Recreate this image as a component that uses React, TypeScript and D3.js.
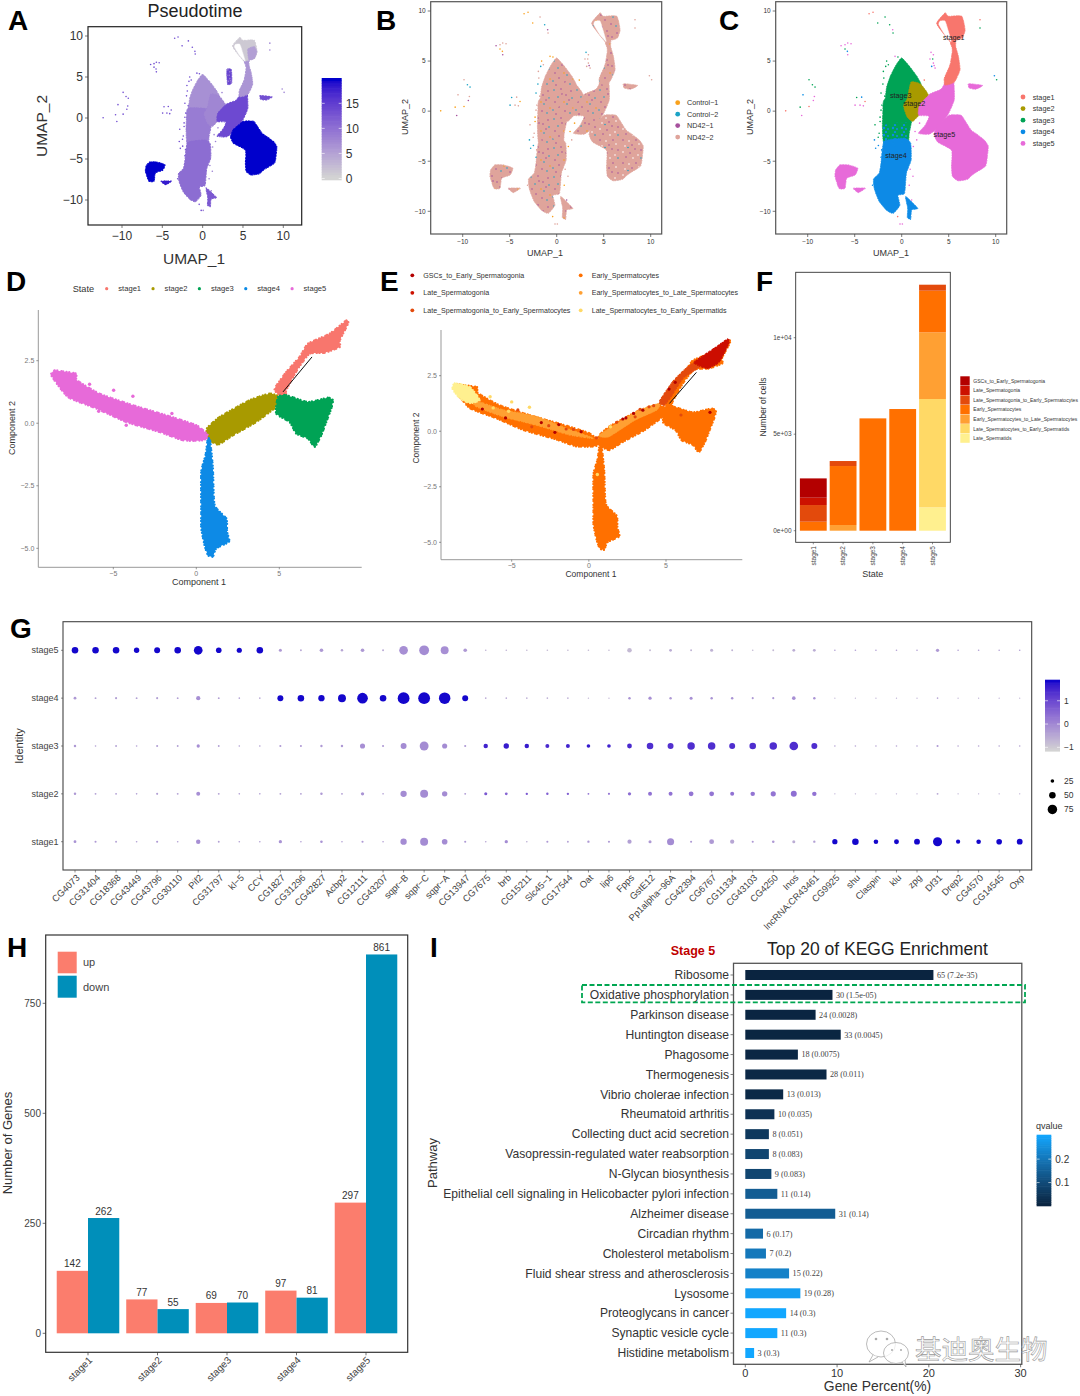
import * as d3 from "d3";
import React from "react";

const FONT = "'Liberation Sans', Arial, sans-serif";
const stages = ["stage1", "stage2", "stage3", "stage4", "stage5"];
const stageColors = ["#f8766d", "#a89a00", "#00a355", "#0a8ae6", "#e76bd9"];

type Pt = number[];

const umapTop: Pt[] = [[3.72, 8.8], [4.61, 9.8], [4.96, 9.47], [6.38, 9.47], [6.74, 8.13], [6.45, 7.3], [5.74, 7.07], [5.14, 6.97], [4.26, 7.97]];
const umapTopTip: Pt[] = [[5.6, 8.4], [6.4, 8.7], [6.72, 8.1], [6.45, 7.3], [5.74, 7.07]];
const umapStem: Pt[] = [[5.14, 6.97], [5.74, 7.07], [5.74, 6.47], [6.03, 5.47], [6.2, 4.13], [5.6, 2.9], [4.61, 2.6], [4.54, 3.3], [5.14, 4.63], [5.39, 6.13]];
const umapGap: Pt[] = [[4.08, 8.97], [3.97, 8.63], [4.61, 7.63], [5.25, 6.97], [4.96, 7.97], [4.61, 8.97]];
const umapUpper: Pt[] = [[0.0, 5.3], [0.8, 4.5], [1.6, 3.5], [2.1, 2.6], [2.1, 1.5], [1.6, 0.8], [0.5, 0.2], [-1.8, 0.2], [-1.75, 1.2], [-1.6, 2.4], [-1.2, 3.5], [-0.6, 4.6]];
const umapLower: Pt[] = [[-1.8, 1.2], [0.7, 1.1], [1.1, 0.2], [1.1, -0.8], [0.8, -2.2], [0.6, -3.1], [-1.8, -3.4], [-2.05, -1.6], [-2.0, 0]];
const umapOlive: Pt[] = [[1.0, 2.9], [2.0, 2.7], [2.8, 1.7], [2.8, 0.8], [2.2, 0], [1.2, -1], [0.6, -0.6], [0.2, 0.5], [0.6, 1.3]];
const umapCentre: Pt[] = [[1.9, 0.6], [3.0, 1.7], [4.2, 2.2], [4.9, 3.3], [5.5, 3.2], [5.6, 1.2], [5.0, -0.2], [4.4, -1], [3.7, -1.8], [2.9, -2.3], [1.8, -2.2], [2.5, -1.4], [2.9, -0.5], [1.8, -0.4]];
const umapLobe: Pt[] = [[3.45, -2.3], [3.8, -1.4], [4.3, -1.0], [5.05, -0.4], [6.3, -0.4], [6.8, -1.05], [7.4, -1.9], [8, -2.3], [8.8, -2.9], [9.2, -3.5], [9.1, -4.6], [8.9, -5.5], [7.6, -6.3], [7.0, -6.8], [6, -6.95], [5.4, -6.5], [5.3, -5.5], [5.3, -3.9], [3.85, -3.1]];
const umapBlue: Pt[] = [[-1.85, -3.0], [0.3, -2.7], [0.95, -3.2], [1.0, -4.87], [0.5, -6.2], [0.3, -8.2], [-0.4, -8.4], [-0.2, -9.4], [-0.9, -10.2], [-1.6, -9.9], [-2.4, -9.0], [-2.9, -7.8], [-3, -6.8], [-2.4, -6.2], [-2.2, -5.2]];
const umapTail: Pt[] = [[0.43, -8.53], [1.7, -9.7], [1.06, -9.87], [0.95, -10.8], [0.6, -10.6], [0.64, -9.7]];
const umapLeft: Pt[] = [[-7.02, -5.87], [-6.56, -5.37], [-5.67, -5.37], [-4.68, -5.7], [-4.96, -6.37], [-5.85, -6.7], [-6.03, -7.7], [-6.67, -7.7], [-7.09, -6.53]];
const umapLeftSmall: Pt[] = [[-5.14, -7.7], [-3.9, -7.7], [-4.61, -8.13]];
const umapStrip: Pt[] = [[3.0, 5.9], [3.55, 5.9], [3.6, 4.3], [3.1, 4.1]];
const umapRightBit: Pt[] = [[7.13, 2.73], [8.6, 2.57], [7.9, 2.2], [7.2, 2.3]];
const umapBlend: Pt[] = [[-1.9, -1.4], [0.8, -1.2], [0.6, -3.2], [-1.8, -3.6]];

// outline, stage index, pseudotime
const umapRegions: [Pt[], number, number][] = [
  [umapUpper, 2, 6.5],
  [umapLower, 2, 8.5],
  [umapBlue, 3, 10],
  [umapTail, 3, 12],
  [umapOlive, 1, 7.5],
  [umapCentre, 4, 13.5],
  [umapLobe, 4, 19.5],
  [umapLeft, 4, 19.5],
  [umapLeftSmall, 4, 18],
  [umapRightBit, 4, 13],
  [umapStem, 0, 6],
  [umapTop, 0, 1],
];

// stray cells: UMAP_1, UMAP_2, stage, sample
const umapStrays: Pt[] = [
  [-3.47, 9.73, 0, 0], [-3.05, 9.87, 0, 0], [-1.77, 9.4, 2, 3], [-2.55, 8.8, 2, 0], [-1.28, 8.63, 2, 1], [-0.96, 8.13, 4, 2], [-0.92, 7.8, 2, 3],
  [-6.45, 6.53, 4, 2], [-6.03, 6.63, 4, 3], [-5.74, 6.8, 4, 3], [-5.39, 6.73, 4, 3], [-6.03, 6.2, 2, 0], [-5.78, 5.97, 3, 0], [-5.74, 5.63, 4, 2],
  [-9.86, 3.13, 2, 3], [-9.5, 2.63, 2, 1], [-9.22, 2.4, 2, 1], [-9.29, 1.47, 4, 3], [-9.4, 1.07, 4, 2], [-10.5, 1.63, 3, 3], [-10.8, 0.4, 2, 0], [-9.86, 0.47, 0, 0], [-10.64, -0.43, 4, 2], [-12.34, 0.03, 0, 0],
  [-4.79, 1.37, 2, 1], [-4.26, 1.4, 3, 3], [-3.9, 0.97, 0, 0], [-4.96, 0.6, 4, 1], [-4.43, 0.6, 4, 3], [-4.08, 0.53, 4, 3],
  [8.33, 9.13, 0, 3], [8.33, 8.3, 2, 3], [9.86, 3.53, 3, 3], [10.1, 3.13, 2, 3],
  [-2.84, -1.37, 2, 3], [-2.3, -1.03, 2, 0], [-2.9, -2.87, 3, 1], [-2.48, -3.43, 3, 1], [-2.13, -3.87, 3, 3], [-2.77, -3.7, 3, 1],
  [-0.18, -11.27, 4, 3], [-0.43, -10.53, 0, 0], [0.07, -11.27, 4, 3], [1.06, -8.87, 4, 2], [1.42, -2.03, 4, 0], [1.6, -2.87, 4, 3], [1.24, -3.53, 4, 0],
  [-1.42, 4.63, 2, 3], [-1.7, 4.47, 2, 1], [-1.95, 3.97, 2, 3], [-0.71, 5.47, 4, 0], [-2.2, 1.8, 2, 1], [-2.1, 0.6, 2, 3], [-2.4, -2.2, 2, 3], [1.9, -1.2, 4, 0], [2.4, 3.1, 0, 0],
  [3.12, 5.87, 4, 1], [3.37, 5.63, 4, 3], [3.37, 4.8, 4, 3], [3.19, 4.47, 3, 3], [3.55, 4.3, 4, 3], [3.01, 5.2, 4, 3], [3.3, 5.2, 2, 3], [3.45, 4.55, 4, 2],
  [-1.9, 3.3, 2, 3], [-2.0, 2.7, 2, 1], [-1.8, 1.5, 2, 3], [-2.2, 0.1, 2, 3], [-2.3, -0.6, 2, 0], [-2.5, -2.6, 2, 3], [-2.2, -4.6, 3, 1], [-3.1, -7.4, 3, 3], [-1.6, 5.0, 2, 0], [-0.4, 5.4, 2, 0], [1.2, -6.5, 4, 3], [0.8, -7.4, 4, 0], [0.9, -5.8, 4, 3],
];

const umapTicks = [-10, -5, 0, 5, 10];
const samples = ["Control\u22121", "Control\u22122", "ND42\u22121", "ND42\u22122"];
const sampleColors = ["#f9a11b", "#1ba3c6", "#a6519d", "#dfa49b"];
const stageLabelsUmap: [string, number, number][] = [
  ["stage1", 5.53, 7.37], ["stage3", -0.1, 1.57], ["stage2", 1.35, 0.73], ["stage5", 4.54, -2.37], ["stage4", -0.6, -4.47],
];
const pseudotimeTicks = [0, 5, 10, 15];

// monocle trajectory outlines (Component 1, Component 2)
const trajStage5: Pt[] = [[-8.73, 1.91], [-8.53, 2.11], [-8.03, 2.07], [-7.23, 1.98], [-7.19, 1.72], [-5.82, 1.18], [-3.82, 0.72], [-1.81, 0.32], [0, -0.08], [0.7, -0.48], [0.4, -0.68], [-0.8, -0.68], [-2.21, -0.35], [-4.22, 0.05], [-6.02, 0.59], [-7.73, 1.05]];
const trajStage2: Pt[] = [[0.64, -0.21], [1.41, 0.25], [3.21, 0.92], [4.42, 1.18], [4.98, 1.05], [4.92, 0.72], [3.61, 0.05], [2.21, -0.48], [1.31, -0.85], [0.7, -0.61]];
const trajStage1: Pt[] = [[4.72, 1.38], [5.42, 2.05], [6.22, 2.65], [6.73, 3.18], [8.03, 3.58], [9.04, 4.11], [9.14, 3.98], [8.64, 3.31], [8.64, 3.05], [7.73, 2.82], [6.83, 2.78], [6.12, 2.18], [5.42, 1.32], [5.42, 1.05], [5.02, 1.12]];
const trajStage3: Pt[] = [[4.92, 1.05], [5.42, 1.12], [6.73, 0.85], [7.93, 1.02], [8.23, 0.92], [8.13, 0.59], [7.83, 0.05], [7.53, -0.48], [7.13, -0.94], [6.73, -0.61], [6.02, -0.41], [5.62, 0.05], [4.82, 0.39]];
const trajStage4: Pt[] = [[0.7, -0.61], [0.84, -0.74], [1.0, -1.81], [1.1, -3.27], [1.81, -3.81], [1.85, -4.34], [1.97, -4.73], [1.2, -5.0], [1.0, -5.33], [0.7, -5.27], [0.5, -4.87], [0.3, -4.2], [0.3, -3.53], [0.3, -1.95], [0.56, -1.28]];
const trajStems: Pt[][] = [trajStage1, trajStage2, trajStage3, trajStage4, trajStage5];
const trajLine: Pt[] = [[5.22, 1.25], [6.97, 2.65]];
const trajStrays5: Pt[] = [[-6.43, 1.56], [-4.98, 1.32], [-3.82, 1.08], [-1.47, 0.39], [-5.88, 0.48], [-4.22, -0.08]];
const compXTicks = [-5, 0, 5];
const compYTicks = [-5, -2.5, 0, 2.5];

// panel E overlays
const trajDarkTip: Pt[] = [[6.85, 3.13], [8.13, 3.73], [9, 4.15], [9.07, 3.96], [8.46, 3.13], [7.7, 2.83], [7.05, 2.98]];
const trajRedBand: Pt[] = [[4.57, 1.33], [5.44, 2.23], [6.3, 2.83], [7.05, 3.2], [7.16, 2.9], [6.1, 2.38], [5.33, 1.56], [4.9, 1.18]];
const trajYellowTip: Pt[] = [[-8.84, 1.9], [-8.69, 2.16], [-7.72, 2.0], [-7.07, 1.41], [-7.72, 1.26], [-8.36, 1.48]];
const trajLightBand: Pt[] = [[-7.5, 1.41], [-5.56, 0.96], [-3.4, 0.66], [-1.47, 0.13], [0.26, -0.31], [-1.25, -0.16], [-3.4, 0.28], [-5.56, 0.66], [-7.29, 1.11]];
const trajLightBand2: Pt[] = [[0.69, -0.16], [3.06, 0.88], [4.57, 1.26], [4.4, 0.95], [3, 0.5], [1.3, -0.25]];
const trajRedDots: Pt[] = [[7.85, 0.85], [5.97, 0.73], [5.6, 2.2], [3.32, 0.99], [-3.08, 0.39], [-1.47, 0.1], [-0.5, -0.02], [-4.6, 0.96], [-1.95, 0.3], [0.5, -0.3], [2.4, 0.6], [3.9, 1.1], [2.9, 0.8], [-2.6, 0.25], [-6.9, 1.0], [-1.0, 0.08], [5.2, 1.9], [1.8, 0.4], [2.2, 0.55], [3.0, 0.65], [3.5, 0.95], [4.2, 1.15], [-5.4, 0.6], [-3.7, 0.2], [-2.2, -0.05]];
const trajYellowDots: Pt[] = [[-6.4, 1.55], [-5, 1.32], [-3.85, 1.08], [-5.2, 0.9], [-6.2, 1.05], [1.4, 0.2], [0.55, -1.95]];

const cellTypes = ["GSCs_to_Early_Spermatogonia", "Late_Spermatogonia", "Late_Spermatogonia_to_Early_Spermatocytes", "Early_Spermatocytes", "Early_Spermatocytes_to_Late_Spermatocytes", "Late_Spermatocytes_to_Early_Spermatids", "Late_Spermatids"];
const cellColors = ["#b30000", "#cc1100", "#e34a0c", "#ff7000", "#ffa033", "#ffd966", "#fff08f"];
// counts, per cell type, stage1..stage5
const gscCounts = [1000, 0, 0, 0, 0];
const lateCounts = [380, 0, 0, 0, 0];
const lateToEarlyCounts = [864, 259, 0, 0, 311];
const earlyCounts = [466, 3057, 5820, 6304, 2159];
const earlyToLateCounts = [0, 294, 0, 0, 3454];
const lateToSpermatidCounts = [0, 0, 0, 0, 5613];
const spermatidCounts = [0, 0, 0, 0, 1209];
const cellCounts = [gscCounts, lateCounts, lateToEarlyCounts, earlyCounts, earlyToLateCounts, lateToSpermatidCounts, spermatidCounts];
const cellTicks: [number, string][] = [[0, "0e+00"], [5000, "5e+03"], [10000, "1e+04"]];

const genes = ["CG4073", "CG31404", "CG18368", "CG43449", "CG43796", "CG30110", "Pif2", "CG31797", "kl\u22125", "CCY", "CG1827", "CG31296", "CG42827", "Acbp2", "CG12111", "CG43207", "sqpr\u2212B", "sqpr\u2212C", "sqpr\u2212A", "CG13947", "CG7675", "brb", "CG15211", "Slc45\u22121", "CG17544", "Oat", "lip6", "Fpps", "GstE12", "Pp1alpha\u221296A", "CG42394", "CG6767", "CG11334", "CG43103", "CG4250", "Inos", "lncRNA:CR43461", "CG9925", "shu", "Claspin", "klu", "zpg", "Df31", "Drep2", "CG4570", "CG14545", "Oxp"];
const pct5 = [50, 50, 50, 40, 45, 50, 68, 42, 38, 50, 20, 10, 25, 15, 25, 10, 68, 78, 62, 25, 8, 8, 8, 8, 8, 8, 8, 33, 10, 18, 10, 20, 10, 8, 10, 18, 18, 8, 8, 8, 8, 8, 22, 8, 8, 8, 8];
const pct4 = [18, 10, 12, 10, 12, 10, 30, 10, 8, 8, 45, 50, 48, 62, 85, 50, 95, 95, 92, 45, 8, 8, 8, 8, 8, 6, 6, 15, 22, 15, 20, 15, 15, 12, 12, 25, 15, 5, 5, 5, 5, 5, 8, 5, 5, 5, 5];
const pct3 = [15, 8, 10, 8, 12, 10, 22, 10, 8, 8, 12, 12, 14, 15, 38, 12, 45, 70, 38, 12, 32, 40, 32, 28, 28, 25, 25, 35, 50, 45, 58, 58, 45, 50, 58, 68, 45, 8, 8, 8, 8, 8, 12, 8, 8, 8, 8];
const pct2 = [15, 10, 10, 8, 12, 10, 28, 10, 8, 8, 10, 10, 15, 10, 22, 8, 48, 62, 40, 10, 20, 18, 14, 15, 14, 10, 12, 22, 28, 28, 35, 35, 28, 32, 38, 45, 32, 6, 6, 6, 6, 6, 10, 6, 6, 6, 6];
const pct1 = [18, 12, 10, 8, 12, 8, 32, 10, 8, 8, 22, 8, 16, 8, 12, 8, 48, 62, 42, 12, 8, 22, 8, 12, 10, 14, 12, 30, 20, 55, 12, 35, 30, 12, 16, 20, 14, 39, 50, 33, 36, 44, 72, 30, 33, 42, 44];
const avg5 = [1.8, 1.8, 1.8, 1.8, 1.8, 1.8, 1.8, 1.8, 1.8, 1.8, -0.3, -0.5, -0.3, -0.5, -0.3, -0.5, -0.15, -0.1, -0.15, -0.3, -0.7, -0.7, -0.8, -0.8, -0.8, -0.8, -0.8, -0.8, -0.8, -0.6, -0.7, -0.7, -0.7, -0.8, -0.8, -0.6, -0.6, -0.4, -0.4, -0.4, -0.4, -0.4, -0.3, -0.4, -0.4, -0.4, -0.4];
const avg4 = [-0.3, -0.4, -0.4, -0.4, -0.4, -0.4, -0.15, -0.4, -0.4, -0.5, 1.8, 1.8, 1.8, 1.8, 1.8, 1.8, 1.8, 1.8, 1.8, 1.8, -0.5, -0.5, -0.6, -0.6, -0.6, -0.7, -0.7, -0.2, -0.15, -0.3, -0.15, -0.2, -0.2, -0.3, -0.3, -0.15, -0.2, -0.7, -0.7, -0.6, -0.6, -0.6, -0.5, -0.6, -0.6, -0.6, -0.7];
const avg3 = [-0.3, -0.4, -0.4, -0.4, -0.4, -0.4, -0.15, -0.4, -0.4, -0.4, -0.3, -0.3, -0.3, -0.3, -0.15, -0.3, -0.1, -0.1, -0.1, -0.3, 1.5, 1.6, 1.6, 1.4, 1.5, 1.6, 1.5, 1.4, 1.35, 1.3, 1.35, 1.35, 1.35, 1.35, 1.35, 1.35, 1.35, -0.5, -0.5, -0.5, -0.5, -0.5, -0.3, -0.5, -0.5, -0.5, -0.5];
const avg2 = [-0.3, -0.4, -0.4, -0.4, -0.4, -0.4, -0.15, -0.4, -0.4, -0.4, -0.4, -0.4, -0.3, -0.4, -0.2, -0.4, -0.1, -0.1, -0.1, -0.3, 0.7, 0.5, 0.7, 0.6, 0.6, 0.3, 0.3, 0.4, 0.3, 0.3, 0.25, 0.25, 0.3, 0.25, 0.25, 0.35, 0.3, -0.6, -0.6, -0.6, -0.6, -0.6, -0.5, -0.6, -0.6, -0.6, -0.6];
const avg1 = [-0.2, -0.3, -0.4, -0.4, -0.3, -0.4, -0.15, -0.4, -0.4, -0.4, -0.2, -0.4, -0.2, -0.4, -0.3, -0.4, -0.1, -0.1, -0.1, -0.3, -0.5, -0.1, -0.6, -0.3, -0.4, -0.3, -0.3, -0.4, -0.3, -0.1, -0.3, -0.3, -0.5, -0.3, -0.3, -0.6, -0.4, 1.8, 1.8, 1.8, 1.8, 1.8, 1.8, 1.8, 1.8, 1.8, 1.8];
const dotRows: [string, number[], number[]][] = [
  ["stage1", pct1, avg1], ["stage2", pct2, avg2], ["stage3", pct3, avg3], ["stage4", pct4, avg4], ["stage5", pct5, avg5],
];
const sizeLegend = [25, 50, 75];
const avgTicks = [-1, 0, 1];

const upGenes = [142, 77, 69, 97, 297];
const downGenes = [262, 55, 70, 81, 861];
const geneTicks = [0, 250, 500, 750];

const pathways = ["Ribosome", "Oxidative phosphorylation", "Parkinson disease", "Huntington disease", "Phagosome", "Thermogenesis", "Vibrio cholerae infection", "Rheumatoid arthritis", "Collecting duct acid secretion", "Vasopressin-regulated water reabsorption", "N-Glycan biosynthesis", "Epithelial cell signaling in Helicobacter pylori infection", "Alzheimer disease", "Circadian rhythm", "Cholesterol metabolism", "Fluid shear stress and atherosclerosis", "Lysosome", "Proteoglycans in cancer", "Synaptic vesicle cycle", "Histidine metabolism"];
const genePercent = [20.5, 9.5, 7.66, 10.4, 5.73, 8.85, 4.13, 3.17, 2.57, 2.57, 2.84, 3.49, 9.8, 1.93, 2.25, 4.77, 6.0, 4.45, 3.49, 0.96];
const geneCount = [65, 30, 24, 33, 18, 28, 13, 10, 8, 8, 9, 11, 31, 6, 7, 15, 19, 14, 11, 3];
const qvalues = [7.2e-35, 1.5e-5, 0.0028, 0.0045, 0.0075, 0.011, 0.013, 0.035, 0.051, 0.083, 0.083, 0.14, 0.14, 0.17, 0.2, 0.22, 0.28, 0.3, 0.3, 0.3];
const qLabels = ["7.2e-35", "1.5e-05", "0.0028", "0.0045", "0.0075", "0.011", "0.013", "0.035", "0.051", "0.083", "0.083", "0.14", "0.14", "0.17", "0.2", "0.22", "0.28", "0.3", "0.3", "0.3"];
const percentTicks = [0, 10, 20, 30];
const qTicks = [0.1, 0.2];

// texture tiles for the mixed scatter of panel B (tile x, tile y, colour)
const fleckBody: [number, number, string][] = [
  [2, 3, "#1ba3c6"], [9, 2, "#a6519d"], [14, 8, "#a6519d"], [6, 10, "#1ba3c6"], [3, 15, "#a6519d"], [12, 15, "#f9a11b"], [15, 17, "#1ba3c6"],
  [19, 4, "#a6519d"], [20, 11, "#1ba3c6"], [10, 7, "#a6519d"], [17, 13, "#a6519d"], [7, 20, "#a6519d"], [21, 21, "#f9a11b"], [1, 23, "#1ba3c6"], [13, 24, "#a6519d"], [18, 26, "#1ba3c6"], [4, 27, "#a6519d"],
];
const fleckLobe: [number, number, string][] = [
  [2, 2, "#a6519d"], [8, 3, "#fff"], [11, 7, "#a6519d"], [4, 8, "#fff"], [7, 9.5, "#1ba3c6"], [15, 2, "#a6519d"], [18, 6, "#fff"], [14, 11, "#a6519d"], [20, 12, "#a6519d"], [2, 14, "#fff"], [9, 15, "#a6519d"], [17, 17, "#fff"], [5, 19, "#a6519d"], [12, 20, "#fff"], [20, 20, "#1ba3c6"],
];

const pseudoColor = d3.scaleLinear<string>().domain([0, 19.5]).range(["#d3d3d3", "#0000cc"]).interpolate(d3.interpolateLab).clamp(true);
const avgColor = d3.scaleLinear<string>().domain([-1.17, 1.85]).range(["#d3d3d3", "#0000cc"]).interpolate(d3.interpolateLab).clamp(true);
const qColor = d3.scaleLinear<string>().domain([0, 0.3]).range(["#0a2440", "#12a7ff"]).interpolate(d3.interpolateLab);

type Scale = d3.ScaleLinear<number, number>;

function Blob({ pts, x, y, fill, dot, edge }: { pts: Pt[]; x: Scale; y: Scale; fill: string; dot: number; edge?: string }) {
  const d = d3.line<Pt>().x((p) => x(p[0])).y((p) => y(p[1])).curve(d3.curveCardinalClosed.tension(0.45))(pts) ?? "";
  const c = edge ?? fill;
  return (
    <path
      d={d}
      fill={fill}
      stroke={c}
      strokeWidth={dot}
      strokeLinecap="round"
      strokeDasharray={`0.01 ${dot * 1.1} 0.01 ${dot * 1.7} 0.01 ${dot * 0.8} 0.01 ${dot * 1.4}`}
    />
  );
}

function Label({ L, x, y }: { L: string; x: number; y: number }) {
  return <text x={x} y={y} fontSize={28} fontWeight="bold" fill="#000">{L}</text>;
}

function Colorbar({ x, width, scale, color, ticks, fmt, fontSize, tickColor = "#fff" }: { x: number; width: number; scale: Scale; color: (v: number) => string; ticks: number[]; fmt: (v: number) => string; fontSize: number; tickColor?: string }) {
  const [lo, hi] = scale.domain();
  const cells = d3.range(40).map((i) => lo + ((hi - lo) * i) / 40);
  const h = Math.abs(scale(lo) - scale(hi)) / 40;
  return (
    <g>
      {cells.map((v) => <rect key={v} x={x} y={scale(v) - h - 0.3} width={width} height={h + 0.6} fill={color(v)} />)}
      {ticks.map((t) => (
        <g key={t}>
          <line x1={x} x2={x + 3} y1={scale(t)} y2={scale(t)} stroke={tickColor} strokeWidth={0.6} />
          <line x1={x + width - 3} x2={x + width} y1={scale(t)} y2={scale(t)} stroke={tickColor} strokeWidth={0.6} />
          <text x={x + width + 4} y={scale(t)} dy="0.35em" fontSize={fontSize} fill="#333">{fmt(t)}</text>
        </g>
      ))}
    </g>
  );
}

function UmapAxes({ x, y, box, tickSize, stroke }: { x: Scale; y: Scale; box: number[]; tickSize: number; stroke: string }) {
  const [l, t, r, b] = box;
  return (
    <g fontSize={tickSize} fill="#333">
      <rect x={l} y={t} width={r - l} height={b - t} fill="none" stroke={stroke} strokeWidth={1.2} />
      {umapTicks.map((v) => (
        <g key={v}>
          <line x1={x(v)} x2={x(v)} y1={b} y2={b + 3} stroke="#444" strokeWidth={0.7} />
          <text x={x(v)} y={b + tickSize + 3} textAnchor="middle">{String(v).replace("-", "\u2212")}</text>
          <line x1={l} x2={l - 3} y1={y(v)} y2={y(v)} stroke="#444" strokeWidth={0.7} />
          <text x={l - 5} y={y(v)} dy="0.35em" textAnchor="end">{String(v).replace("-", "\u2212")}</text>
        </g>
      ))}
    </g>
  );
}

function PanelA() {
  const x = d3.scaleLinear([-10, 10], [122, 283.3]);
  const y = d3.scaleLinear([-10, 10], [200, 36]);
  const bar = d3.scaleLinear([-0.3, 20], [180, 78.3]);
  return (
    <g>
      <Label L="A" x={8} y={30} />
      <text x={195} y={17} textAnchor="middle" fontSize={18} fill="#222">Pseudotime</text>
      <g filter="url(#soft)">
        {umapRegions.map(([pts, , t], i) => <Blob key={i} pts={pts} x={x} y={y} fill={pseudoColor(t)} dot={1.2} />)}
        <Blob pts={umapTopTip} x={x} y={y} fill={pseudoColor(5)} dot={1} />
        <Blob pts={umapStrip} x={x} y={y} fill={pseudoColor(14)} dot={1} />
        <Blob pts={umapGap} x={x} y={y} fill="#fff" dot={0.4} />
        {umapStrays.map((p, i) => <circle key={i} cx={x(p[0])} cy={y(p[1])} r={0.8} fill={pseudoColor(p[0] < 0 ? 13 : 8)} />)}
      </g>
      <UmapAxes x={x} y={y} box={[88, 26.7, 301.7, 225]} tickSize={12} stroke="#222" />
      <text x={194} y={264} textAnchor="middle" fontSize={15.5} fill="#333">UMAP_1</text>
      <text transform="translate(47,126) rotate(-90)" textAnchor="middle" fontSize={15.5} fill="#333">UMAP_2</text>
      <Colorbar x={321.7} width={20} scale={bar} color={(v) => pseudoColor(v)} ticks={pseudotimeTicks} fmt={String} fontSize={12} />
    </g>
  );
}

function PanelB() {
  const x = d3.scaleLinear([-10, 10], [462.7, 650.7]);
  const y = d3.scaleLinear([-10, 10], [211.3, 11]);
  return (
    <g>
      <Label L="B" x={376} y={30} />
      <g filter="url(#soft)">
        {umapRegions.map(([pts, , t], i) => <Blob key={i} pts={pts} x={x} y={y} fill={t > 19 && pts === umapLobe ? "url(#fleckLobe)" : "url(#fleck)"} edge="#dfa49b" dot={1} />)}
        <Blob pts={umapGap} x={x} y={y} fill="#fff" dot={0.4} />
        {umapStrays.map((p, i) => <circle key={i} cx={x(p[0])} cy={y(p[1])} r={0.8} fill={sampleColors[p[3]]} />)}
      </g>
      <UmapAxes x={x} y={y} box={[430.7, 1.7, 661.7, 234]} tickSize={6.5} stroke="#555" />
      <text x={545} y={256} textAnchor="middle" fontSize={9} fill="#333">UMAP_1</text>
      <text transform="translate(408,117) rotate(-90)" textAnchor="middle" fontSize={9} fill="#333">UMAP_2</text>
      {samples.map((s, i) => (
        <g key={s}>
          <circle cx={677.7} cy={102.7 + i * 11.45} r={2.4} fill={sampleColors[i]} />
          <text x={687} y={102.7 + i * 11.45} dy="0.35em" fontSize={7.2} fill="#333">{s}</text>
        </g>
      ))}
    </g>
  );
}

function PanelC() {
  const x = d3.scaleLinear([-10, 10], [807.7, 995.7]);
  const y = d3.scaleLinear([-10, 10], [211.3, 11]);
  return (
    <g>
      <Label L="C" x={719} y={30} />
      <g filter="url(#soft)">
        {umapRegions.map(([pts, s], i) => <Blob key={i} pts={pts} x={x} y={y} fill={stageColors[s]} dot={1} />)}
        <Blob pts={umapBlend} x={x} y={y} fill="url(#blueSpeck)" edge="none" dot={1} />
        <Blob pts={umapGap} x={x} y={y} fill="#fff" dot={0.4} />
        {umapStrays.map((p, i) => <circle key={i} cx={x(p[0])} cy={y(p[1])} r={0.8} fill={stageColors[p[2]]} />)}
      </g>
      {stageLabelsUmap.map(([s, a, b]) => <text key={s} x={x(a)} y={y(b)} dy="0.35em" textAnchor="middle" fontSize={7.2} fill="#222">{s}</text>)}
      <UmapAxes x={x} y={y} box={[775.7, 1.7, 1006.7, 234]} tickSize={6.5} stroke="#555" />
      <text x={891} y={256} textAnchor="middle" fontSize={9} fill="#333">UMAP_1</text>
      <text transform="translate(753,117) rotate(-90)" textAnchor="middle" fontSize={9} fill="#333">UMAP_2</text>
      {stages.map((s, i) => (
        <g key={s}>
          <circle cx={1023} cy={97 + i * 11.6} r={2.4} fill={stageColors[i]} />
          <text x={1032.7} y={97 + i * 11.6} dy="0.35em" fontSize={7.3} fill="#333">{s}</text>
        </g>
      ))}
    </g>
  );
}

function TrajAxes({ x, y, box }: { x: Scale; y: Scale; box: number[] }) {
  const [l, t, r, b] = box;
  return (
    <g fontSize={7} fill="#777">
      <path d={`M${l},${t}V${b}H${r}`} fill="none" stroke="#999" strokeWidth={1} />
      {compXTicks.map((v) => (
        <g key={v}>
          <line x1={x(v)} x2={x(v)} y1={b} y2={b + 2} stroke="#555" strokeWidth={0.6} />
          <text x={x(v)} y={b + 8.5} textAnchor="middle">{String(v).replace("-", "\u2212")}</text>
        </g>
      ))}
      {compYTicks.map((v) => (
        <g key={v}>
          <line x1={l} x2={l - 2} y1={y(v)} y2={y(v)} stroke="#555" strokeWidth={0.6} />
          <text x={l - 4} y={y(v)} dy="0.35em" textAnchor="end">{v.toFixed(1).replace("-", "\u2212")}</text>
        </g>
      ))}
    </g>
  );
}

function PanelD() {
  const x = d3.scaleLinear([-5, 5], [113.3, 279.3]);
  const y = d3.scaleLinear([-5, 2.5], [548.3, 360.7]);
  return (
    <g>
      <Label L="D" x={6} y={291} />
      <text x={72.7} y={291.8} fontSize={9.2} fill="#333">State</text>
      {stages.map((s, i) => (
        <g key={s}>
          <circle cx={106.7 + i * 46.35} cy={288.7} r={1.6} fill={stageColors[i]} />
          <text x={118.3 + i * 46.3} y={288.7} dy="0.35em" fontSize={7.6} fill="#333">{s}</text>
        </g>
      ))}
      <g filter="url(#soft)">
        {trajStems.map((pts, i) => <Blob key={i} pts={pts} x={x} y={y} fill={stageColors[i]} dot={2.4} />)}
        {trajStrays5.map((p, i) => <circle key={i} cx={x(p[0])} cy={y(p[1])} r={1.7} fill={stageColors[4]} />)}
      </g>
      <line x1={x(trajLine[0][0])} y1={y(trajLine[0][1])} x2={x(trajLine[1][0])} y2={y(trajLine[1][1])} stroke="#111" strokeWidth={1} />
      <TrajAxes x={x} y={y} box={[38.3, 310, 361.7, 567.3]} />
      <text x={199} y={585} textAnchor="middle" fontSize={9} fill="#333">Component 1</text>
      <text transform="translate(14.5,428) rotate(-90)" textAnchor="middle" fontSize={9} fill="#333">Component 2</text>
    </g>
  );
}

function PanelE() {
  const x = d3.scaleLinear([-5, 5], [511.7, 666]);
  const y = d3.scaleLinear([-5, 2.5], [542.3, 375.7]);
  const legendOrder = [0, 1, 2, 3, 4, 5];
  return (
    <g>
      <Label L="E" x={380} y={291} />
      {legendOrder.map((k, i) => {
        const cx = i < 3 ? 412.3 : 580.7;
        const cy = 275.3 + (i % 3) * 17.5;
        return (
          <g key={k}>
            <circle cx={cx} cy={cy} r={1.9} fill={cellColors[k]} />
            <text x={cx + 11} y={cy} dy="0.35em" fontSize={7.1} fill="#333">{cellTypes[k]}</text>
          </g>
        );
      })}
      <g filter="url(#soft)">
        {trajStems.map((pts, i) => <Blob key={i} pts={pts} x={x} y={y} fill={cellColors[3]} dot={2.3} />)}
        <Blob pts={trajLightBand} x={x} y={y} fill={cellColors[4]} dot={1.5} />
        <Blob pts={trajLightBand2} x={x} y={y} fill={cellColors[4]} dot={1} />
        <Blob pts={trajYellowTip} x={x} y={y} fill={cellColors[6]} dot={2} />
        <Blob pts={trajRedBand} x={x} y={y} fill={cellColors[2]} dot={1.6} />
        <Blob pts={trajDarkTip} x={x} y={y} fill={cellColors[1]} dot={1.6} />
        {trajYellowDots.map((p, i) => <circle key={i} cx={x(p[0])} cy={y(p[1])} r={1.7} fill={cellColors[5]} />)}
        {trajRedDots.map((p, i) => <circle key={i} cx={x(p[0])} cy={y(p[1])} r={1.6} fill={i % 2 ? cellColors[2] : cellColors[0]} />)}
      </g>
      <line x1={x(trajLine[0][0])} y1={y(trajLine[0][1])} x2={x(trajLine[1][0])} y2={y(trajLine[1][1])} stroke="#111" strokeWidth={1} />
      <TrajAxes x={x} y={y} box={[441, 330, 742.3, 559.7]} />
      <text x={591} y={577} textAnchor="middle" fontSize={8.5} fill="#333">Component 1</text>
      <text transform="translate(418.5,438) rotate(-90)" textAnchor="middle" fontSize={8.5} fill="#333">Component 2</text>
    </g>
  );
}

function PanelF() {
  const x = d3.scaleBand(stages, [798.4, 947.4]).paddingInner(0.1).paddingOuter(0.05);
  const y = d3.scaleLinear([0, 10000], [530.7, 337.7]);
  const box = [795.7, 272.3, 950.3, 542.3];
  // bottom of the stack is the last cell type
  const order = d3.range(cellTypes.length).reverse();
  const stacked = stages.map((_, s) => {
    let sum = 0;
    return order.map((k) => {
      const v = cellCounts[k][s];
      const seg = { k, y0: sum, y1: sum + v };
      sum += v;
      return seg;
    });
  });
  return (
    <g>
      <Label L="F" x={756} y={291} />
      {stages.map((s, i) => stacked[i].filter((g) => g.y1 > g.y0).map((g) => (
        <rect key={s + g.k} x={x(s)} y={y(g.y1)} width={x.bandwidth()} height={y(g.y0) - y(g.y1)} fill={cellColors[g.k]} />
      )))}
      <rect x={box[0]} y={box[1]} width={box[2] - box[0]} height={box[3] - box[1]} fill="none" stroke="#333" strokeWidth={0.9} />
      {cellTicks.map(([v, t]) => (
        <g key={v}>
          <line x1={box[0]} x2={box[0] - 2} y1={y(v)} y2={y(v)} stroke="#444" strokeWidth={0.6} />
          <text x={791.5} y={y(v)} dy="0.35em" textAnchor="end" fontSize={6.5} fill="#444">{t}</text>
        </g>
      ))}
      {stages.map((s) => {
        const tx = (x(s) ?? 0) + x.bandwidth() / 2;
        return (
          <g key={s}>
            <line x1={tx} x2={tx} y1={box[3]} y2={box[3] + 2} stroke="#444" strokeWidth={0.6} />
            <text transform={`translate(${tx},546) rotate(-90)`} dy="0.35em" textAnchor="end" fontSize={6.5} fill="#444">{s}</text>
          </g>
        );
      })}
      <text x={872.7} y={577} textAnchor="middle" fontSize={9} fill="#333">State</text>
      <text transform="translate(766,407) rotate(-90)" textAnchor="middle" fontSize={8.5} fill="#333">Number of cells</text>
      {cellTypes.map((c, i) => (
        <g key={c}>
          <rect x={960.3} y={376.3 + i * 9.55} width={9.4} height={9.2} fill={cellColors[i]} />
          <text x={973.3} y={381 + i * 9.55} dy="0.35em" fontSize={5.05} fill="#333">{c}</text>
        </g>
      ))}
    </g>
  );
}

function PanelG() {
  const x = d3.scalePoint(genes, [75, 1019.7]);
  const y = d3.scalePoint(stages, [841.7, 650.3]);
  const r = d3.scaleLinear([0, 100], [0.35, 6.2]);
  const bar = d3.scaleLinear([-1.17, 1.89], [751.3, 680]);
  const box = [63, 621.7, 1031.7, 870];
  return (
    <g>
      <Label L="G" x={10} y={638} />
      <rect x={box[0]} y={box[1]} width={box[2] - box[0]} height={box[3] - box[1]} fill="none" stroke="#444" strokeWidth={1.1} />
      {dotRows.map(([s, pct, avg]) => genes.map((g, i) => (
        <circle key={s + g} cx={x(g)} cy={y(s)} r={r(pct[i])} fill={avgColor(avg[i])} />
      )))}
      {stages.map((s) => (
        <g key={s}>
          <line x1={box[0]} x2={box[0] - 2} y1={y(s)} y2={y(s)} stroke="#444" strokeWidth={0.6} />
          <text x={58.5} y={y(s)} dy="0.35em" textAnchor="end" fontSize={9} fill="#444">{s}</text>
        </g>
      ))}
      {genes.map((g) => (
        <g key={g}>
          <line x1={x(g)} x2={x(g)} y1={box[3]} y2={box[3] + 2.5} stroke="#444" strokeWidth={0.6} />
          <text transform={`translate(${(x(g) ?? 0) + 3},${box[3] + 6}) rotate(-45)`} dy="0.35em" textAnchor="end" fontSize={9.3} fill="#444">{g}</text>
        </g>
      ))}
      <text transform="translate(23,746) rotate(-90)" textAnchor="middle" fontSize={11} fill="#333">Identity</text>
      <Colorbar x={1045} width={15} scale={bar} color={(v) => avgColor(v)} ticks={avgTicks} fmt={(v) => String(v).replace("-", "\u2212")} fontSize={8.5} />
      {sizeLegend.map((v, i) => (
        <g key={v}>
          <circle cx={1052.4} cy={781 + i * 14.2} r={r(v)} fill="#000" />
          <text x={1064} y={781 + i * 14.2} dy="0.35em" fontSize={8.5} fill="#333">{v}</text>
        </g>
      ))}
    </g>
  );
}

function PanelH() {
  const x = d3.scaleBand(stages, [53.25, 400.75]).paddingInner(0.1).paddingOuter(0.05);
  const y = d3.scaleLinear([0, 750], [1333.3, 1003.3]);
  const box = [45.7, 935, 407.7, 1352.3];
  const bw = x.bandwidth() / 2;
  return (
    <g>
      <Label L="H" x={7} y={957} />
      {stages.map((s, i) => (
        <g key={s}>
          <rect x={x(s)} y={y(upGenes[i])} width={bw} height={y(0) - y(upGenes[i])} fill="#fb7d6d" />
          <rect x={(x(s) ?? 0) + bw} y={y(downGenes[i])} width={bw} height={y(0) - y(downGenes[i])} fill="#008fba" />
          <text x={(x(s) ?? 0) + bw / 2} y={y(upGenes[i]) - 3.5} textAnchor="middle" fontSize={10} fill="#333">{upGenes[i]}</text>
          <text x={(x(s) ?? 0) + bw * 1.5} y={y(downGenes[i]) - 3.5} textAnchor="middle" fontSize={10} fill="#333">{downGenes[i]}</text>
          <line x1={(x(s) ?? 0) + bw} x2={(x(s) ?? 0) + bw} y1={box[3]} y2={box[3] + 3} stroke="#333" strokeWidth={0.7} />
          <text transform={`translate(${(x(s) ?? 0) + bw + 2.5},${box[3] + 6}) rotate(-45)`} dy="0.35em" textAnchor="end" fontSize={10} fill="#444">{s}</text>
        </g>
      ))}
      <rect x={box[0]} y={box[1]} width={box[2] - box[0]} height={box[3] - box[1]} fill="none" stroke="#333" strokeWidth={1.2} />
      {geneTicks.map((v) => (
        <g key={v}>
          <line x1={box[0]} x2={box[0] - 3} y1={y(v)} y2={y(v)} stroke="#333" strokeWidth={0.7} />
          <text x={41} y={y(v)} dy="0.35em" textAnchor="end" fontSize={10} fill="#444">{v}</text>
        </g>
      ))}
      <text transform="translate(12,1143) rotate(-90)" textAnchor="middle" fontSize={13} fill="#333">Number of Genes</text>
      <rect x={57.7} y={951.7} width={19} height={21.6} fill="#fb7d6d" />
      <rect x={57.7} y={975.7} width={19} height={22} fill="#008fba" />
      <text x={83} y={962.5} dy="0.35em" fontSize={11} fill="#444">up</text>
      <text x={83} y={987} dy="0.35em" fontSize={11} fill="#444">down</text>
    </g>
  );
}

function PanelI() {
  const x = d3.scaleLinear([0, 30], [745.3, 1020.6]);
  const y = d3.scaleBand(pathways, [965.05, 1362.95]);
  const bar = d3.scaleLinear([0, 0.303], [1206, 1135]);
  const box = [733.5, 963.3, 1021.8, 1364.3];
  return (
    <g>
      <Label L="I" x={430} y={957} />
      <text x={693} y={955} textAnchor="middle" fontSize={12.5} fontWeight="bold" fill="#c00000">Stage 5</text>
      <text x={877.5} y={955} textAnchor="middle" fontSize={17.5} fill="#222">Top 20 of KEGG Enrichment</text>
      {pathways.map((p, i) => {
        const cy = (y(p) ?? 0) + y.bandwidth() / 2;
        return (
          <g key={p}>
            <rect x={x(0)} y={cy - 5} width={x(genePercent[i]) - x(0)} height={10} fill={qColor(qvalues[i])} />
            <text x={x(genePercent[i]) + 3.5} y={cy} dy="0.35em" fontSize={8.2} fontFamily="'Liberation Serif', serif" fill="#444">{`${geneCount[i]} (${qLabels[i]})`}</text>
            <line x1={box[0]} x2={box[0] - 3} y1={cy} y2={cy} stroke="#444" strokeWidth={0.7} />
            <text x={729} y={cy} dy="0.35em" textAnchor="end" fontSize={12.1} fill="#333">{p}</text>
          </g>
        );
      })}
      <rect x={box[0]} y={box[1]} width={box[2] - box[0]} height={box[3] - box[1]} fill="none" stroke="#555" strokeWidth={1.3} />
      <rect x={582} y={985} width={443} height={17.3} fill="none" stroke="#00a651" strokeWidth={1.8} strokeDasharray="5 2.5" />
      {percentTicks.map((v) => (
        <g key={v}>
          <line x1={x(v)} x2={x(v)} y1={box[3]} y2={box[3] + 3} stroke="#444" strokeWidth={0.7} />
          <text x={x(v)} y={1377} textAnchor="middle" fontSize={11} fill="#333">{v}</text>
        </g>
      ))}
      <text x={877.5} y={1391} textAnchor="middle" fontSize={13.9} fill="#333">Gene Percent(%)</text>
      <text transform="translate(437,1163) rotate(-90)" textAnchor="middle" fontSize={13} fill="#333">Pathway</text>
      <text x={1036} y={1129} fontSize={9} fill="#333">qvalue</text>
      <Colorbar x={1036.6} width={14.7} scale={bar} color={(v) => qColor(v)} ticks={qTicks} fmt={String} fontSize={10} />
      {/* watermark */}
      <g fill="#fff" fillOpacity={0.75} stroke="#aaa" strokeWidth={0.8}>
        <ellipse cx={881} cy={1344} rx={14.5} ry={13} />
        <path d="M873,1355 L869,1362 L878,1357" />
        <ellipse cx={896} cy={1353} rx={12.5} ry={10.5} />
        <path d="M902,1362 L906,1367 L905,1360" />
      </g>
      <g fill="#aaa">
        <circle cx={876} cy={1339} r={1.3} />
        <circle cx={887} cy={1339} r={1.3} />
        <circle cx={892} cy={1350} r={1} />
        <circle cx={901} cy={1350} r={1} />
      </g>
      <text x={915} y={1359} fontSize={26.5} fontFamily="'Noto Sans CJK SC', sans-serif" fill="#fff" fillOpacity={0.6} stroke="#999" strokeWidth={0.6}>基迪奥生物</text>
    </g>
  );
}

export default function App() {
  return (
    <svg width={1080} height={1396} fontFamily={FONT} style={{ position: "absolute", left: 0, top: 0, background: "#fff" }}>
      <defs>
        <filter id="soft" x="-5%" y="-5%" width="110%" height="110%">
          <feGaussianBlur stdDeviation="0.35" />
        </filter>
        <pattern id="fleck" width={23} height={29} patternUnits="userSpaceOnUse">
          <rect width={23} height={29} fill="#dfa49b" />
          {fleckBody.map(([a, b, c]) => <circle key={`${a}-${b}`} cx={a} cy={b} r={0.8} fill={c} />)}
        </pattern>
        <pattern id="fleckLobe" width={23} height={23} patternUnits="userSpaceOnUse">
          <rect width={23} height={23} fill="#dfa49b" />
          {fleckLobe.map(([a, b, c]) => <circle key={`${a}-${b}`} cx={a} cy={b} r={0.8} fill={c} />)}
        </pattern>
        <pattern id="blueSpeck" width={9} height={7} patternUnits="userSpaceOnUse">
          <circle cx={2} cy={2} r={1.2} fill="#0a8ae6" />
          <circle cx={6} cy={3} r={1} fill="#0a8ae6" />
          <circle cx={4} cy={6} r={1.1} fill="#0a8ae6" />
        </pattern>
      </defs>
      <PanelA />
      <PanelB />
      <PanelC />
      <PanelD />
      <PanelE />
      <PanelF />
      <PanelG />
      <PanelH />
      <PanelI />
    </svg>
  );
}
